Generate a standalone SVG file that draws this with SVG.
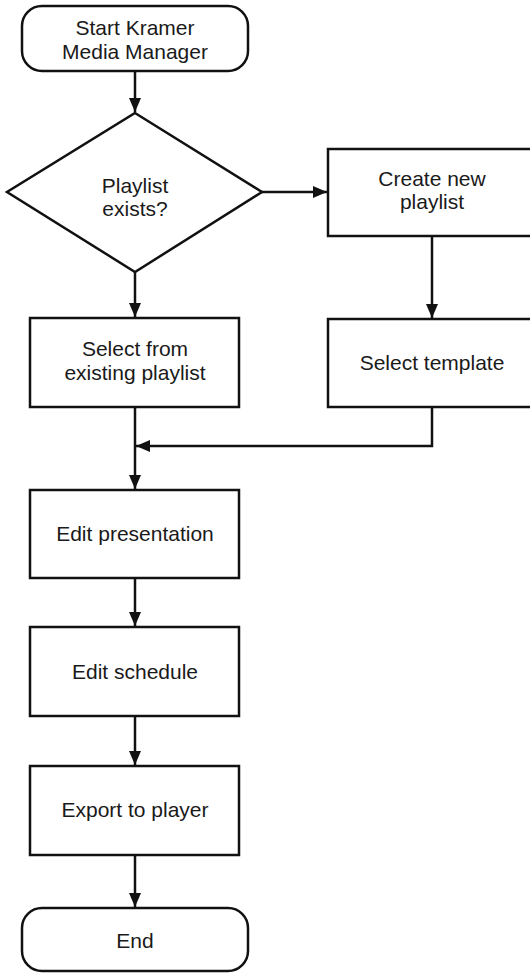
<svg xmlns="http://www.w3.org/2000/svg" width="530" height="973" viewBox="0 0 530 973">
<style>
.shape{fill:#fff;stroke:#111;stroke-width:2.5}
.lbl{font-family:"Liberation Sans",Arial,sans-serif;font-size:21px;fill:#1a1a1a;text-anchor:middle}
.conn{fill:none;stroke:#111;stroke-width:2.5}
</style>
<defs>
<marker id="arr" markerUnits="userSpaceOnUse" markerWidth="14" markerHeight="14" viewBox="0 0 14 12" refX="14" refY="6" orient="auto">
<path d="M0,0 L14,6 L0,12 Z" fill="#111"/>
</marker>
</defs>
<rect width="530" height="973" fill="#fff"/>
<g id="connectors">
<path class="conn" d="M135,71 V112" marker-end="url(#arr)"/>
<path class="conn" d="M135,272 V317" marker-end="url(#arr)"/>
<path class="conn" d="M262,192 H327" marker-end="url(#arr)"/>
<path class="conn" d="M432,236 V318" marker-end="url(#arr)"/>
<path class="conn" d="M135,407 V489" marker-end="url(#arr)"/>
<path class="conn" d="M432,407 V446 H136" marker-end="url(#arr)"/>
<path class="conn" d="M135,578 V626" marker-end="url(#arr)"/>
<path class="conn" d="M135,716 V765" marker-end="url(#arr)"/>
<path class="conn" d="M135,855 V907" marker-end="url(#arr)"/>
</g>
<g id="start">
<rect class="shape" x="22" y="6" width="226" height="65" rx="20"/>
<text class="lbl" x="135" y="35">Start Kramer</text>
<text class="lbl" x="135" y="59">Media Manager</text>
</g>
<g id="decision">
<polygon class="shape" points="135,113 262,192 135,272 7,192"/>
<text class="lbl" x="135" y="193">Playlist</text>
<text class="lbl" x="135" y="216">exists?</text>
</g>
<g id="create">
<rect class="shape" x="328" y="149" width="215" height="87"/>
<text class="lbl" x="432" y="186">Create new</text>
<text class="lbl" x="432" y="209">playlist</text>
</g>
<g id="template">
<rect class="shape" x="328" y="319" width="215" height="88"/>
<text class="lbl" x="432" y="370">Select template</text>
</g>
<g id="select">
<rect class="shape" x="30" y="318" width="209" height="89"/>
<text class="lbl" x="135" y="356">Select from</text>
<text class="lbl" x="135" y="380">existing playlist</text>
</g>
<g id="editpres">
<rect class="shape" x="30" y="490" width="209" height="88"/>
<text class="lbl" x="135" y="541">Edit presentation</text>
</g>
<g id="editsched">
<rect class="shape" x="30" y="627" width="209" height="89"/>
<text class="lbl" x="135" y="679">Edit schedule</text>
</g>
<g id="export">
<rect class="shape" x="30" y="766" width="209" height="89"/>
<text class="lbl" x="135" y="817">Export to player</text>
</g>
<g id="end">
<rect class="shape" x="22" y="908" width="226" height="63" rx="20"/>
<text class="lbl" x="135" y="948">End</text>
</g>
</svg>
